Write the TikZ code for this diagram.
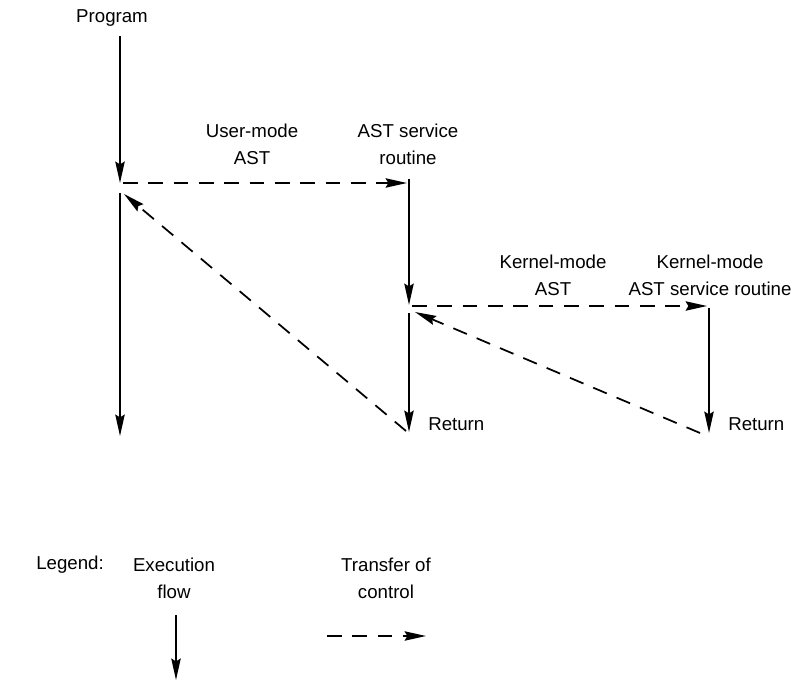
\documentclass[tikz,border=0pt]{standalone}
\usepackage{fontspec}
\setmainfont{Liberation Sans}
\usetikzlibrary{arrows.meta}
\begin{document}
\begin{tikzpicture}[x=0.75pt,y=-0.75pt,
  lbl/.style={font=\fontsize{14}{20}\selectfont, align=center, inner sep=0pt},
  flow/.style={line width=1.5pt, -{Stealth[length=16pt,width=7pt,inset=2pt]}},
  xfer/.style={line width=1.3pt, dash pattern=on 11pt off 8pt, -{Stealth[length=16pt,width=7pt,inset=2pt]}}]
\useasboundingbox (0,0) rectangle (805,681);
% labels
\node[lbl] (prog) at (112,18) {Program};
\node[lbl] (uast) at (252,144) {User-mode\\AST};
\node[lbl] (astsr) at (408,144) {AST service\\routine};
\node[lbl] (kast) at (553,275) {Kernel-mode\\AST};
\node[lbl] (kastsr) at (710,275) {Kernel-mode\\AST service routine};
\node[lbl, anchor=west] (ret1) at (428,424) {Return};
\node[lbl, anchor=west] (ret2) at (728,424) {Return};
% coordinates
\coordinate (a0) at (120,36);
\coordinate (a1) at (120,183);
\coordinate (a2) at (120,193);
\coordinate (a3) at (120,436);
\coordinate (b0) at (409,179);
\coordinate (b1) at (409,305);
\coordinate (b2) at (409,313);
\coordinate (b3) at (409,432);
\coordinate (c0) at (709,308);
\coordinate (c1) at (709,433);
% execution flow
\draw[flow] (a0) -- (a1);
\draw[flow] (a2) -- (a3);
\draw[flow] (b0) -- (b1);
\draw[flow] (b2) -- (b3);
\draw[flow] (c0) -- (c1);
% transfer of control
\draw[xfer] (a1) ++(3,0) -- (407,183);
\draw[xfer] (406,431) -- (124,194);
\draw[xfer] (412,306) -- (707,306);
\draw[xfer] (700,433) -- (415,312);
% legend
\node[lbl, anchor=west] (leg) at (36,565) {Legend:};
\node[lbl] (exf) at (174,578) {Execution\\flow};
\node[lbl] (toc) at (386,578) {Transfer of\\control};
\coordinate (l0) at (176,615);
\coordinate (l1) at (176,680);
\coordinate (m0) at (327,636);
\coordinate (m1) at (426,636);
\draw[flow] (l0) -- (l1);
\draw[xfer] (m0) -- (m1);
\end{tikzpicture}
\end{document}
